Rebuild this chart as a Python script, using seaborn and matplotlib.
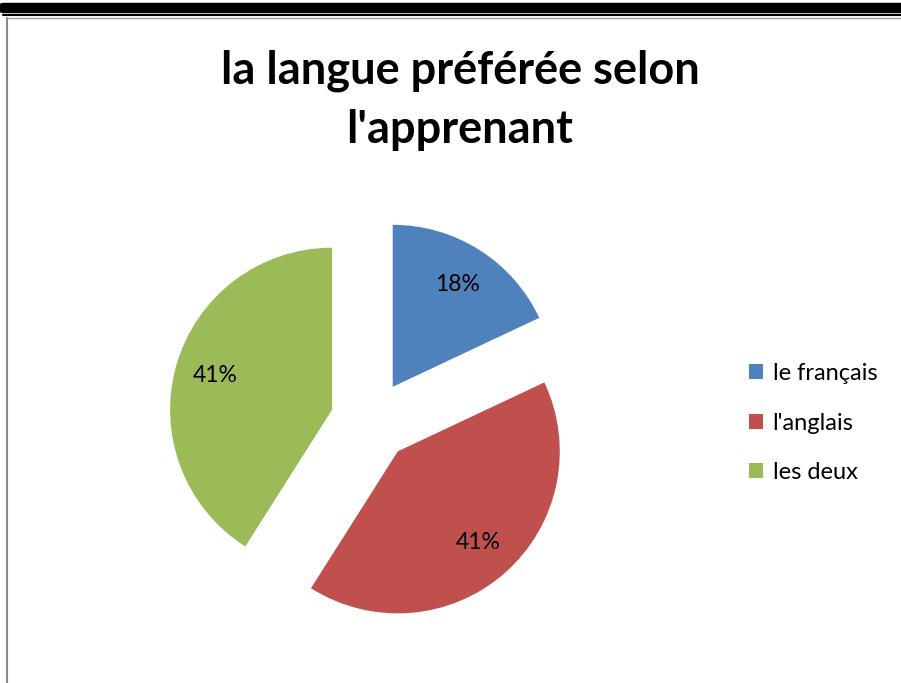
import seaborn as sns
import matplotlib.pyplot as plt
from matplotlib.lines import Line2D

categories = ['le français', "l'anglais", 'les deux']
shares = [18, 41, 41]
colors = ['#4F81BD', '#C0504D', '#9BBB59']

sns.set_theme(style='white')
plt.rcParams['font.family'] = ['Lato', 'DejaVu Sans']
plt.rcParams['text.color'] = 'black'

fig = plt.figure(figsize=(9.01, 6.83), dpi=100)

# pie centred at (371, 421) px, radius 162 px
k = 1.5
cx, cy = 371 / 901, 1 - 421 / 683
w, h = 2 * 162 * k / 901, 2 * 162 * k / 683
ax = fig.add_axes([cx - w / 2, cy - h / 2, w, h])

wedges, texts, autotexts = ax.pie(
    shares, colors=colors, startangle=90, counterclock=False,
    explode=[0.25, 0.25, 0.25], autopct='%1.0f%%', pctdistance=0.75,
    wedgeprops=dict(linewidth=0), textprops=dict(fontsize=16.5, color='black'))
ax.set_xlim(-k, k)
ax.set_ylim(-k, k)
ax.set_aspect('equal')
ax.axis('off')

fig.text(460 / 901, 1 - 100 / 683, "la langue préférée selon\nl'apprenant",
         ha='center', va='center', fontsize=32.5, fontweight='bold',
         color='black', linespacing=1.5)

fig.legend(wedges, categories, loc='center left',
           bbox_to_anchor=(742 / 901, 1 - 423 / 683), frameon=False,
           fontsize=17, handlelength=0.6, handleheight=0.6,
           handletextpad=0.4, labelspacing=1.2, borderaxespad=0,
           borderpad=0.3, labelcolor='black')

# page border lines
fig.add_artist(Line2D([3 / 901, 1], [1 - 8 / 683] * 2, color='black', lw=7.5))
fig.add_artist(Line2D([3 / 901, 1], [1 - 15 / 683] * 2, color='black', lw=1.5))
fig.add_artist(Line2D([7 / 901, 1], [1 - 17.5 / 683] * 2, color='#9a9a9a', lw=1))
fig.add_artist(Line2D([7 / 901] * 2, [0, 1 - 17.5 / 683], color='#8a8a8a', lw=1.5))

fig.savefig('out.png', dpi=100)
